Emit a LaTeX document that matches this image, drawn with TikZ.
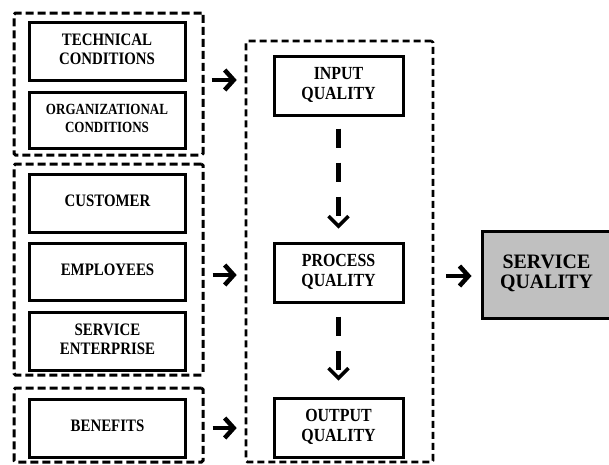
\documentclass[tikz,border=0pt]{standalone}
\usepackage{fontspec}
\setmainfont{Liberation Serif}
\usetikzlibrary{arrows.meta}
\definecolor{sqgray}{HTML}{C0C0C0}
\newcommand{\ctext}[2]{\scalebox{#1}[1]{\begin{tabular}{@{}c@{}}#2\end{tabular}}}
\begin{document}
\begin{tikzpicture}[x=1pt,y=-1pt,
  grp/.style={draw, line width=3pt, dash pattern=on 8pt off 4pt, rounded corners=1.5pt, inner sep=0pt, minimum width=189pt},
  lbox/.style={draw, line width=3pt, inner sep=0pt, minimum width=156pt, minimum height=58pt, font=\bfseries\fontsize{17.5}{19.5}\selectfont},
  mbox/.style={draw, line width=3pt, inner sep=0pt, minimum width=129pt, minimum height=59pt, font=\bfseries\fontsize{18.5}{20.5}\selectfont},
  harr/.style={line width=4.5pt, -{Straight Barb[length=9pt,width=20pt]}},
  varr/.style={line width=4.5pt, dash pattern=on 19pt off 15pt, -{Straight Barb[length=10pt,width=20pt,line width=3.5pt]}}
]
\useasboundingbox (0,0) rectangle (609,464);

% group boxes
\node[grp, minimum height=142pt] (g1) at (108.5,84) {};
\node[grp, minimum height=211pt] (g2) at (108.5,269.5) {};
\node[grp, minimum height=74pt] (g3) at (108.5,425) {};
\node[grp, minimum width=187pt, minimum height=421pt, dash pattern=on 7pt off 4pt, line width=2.6pt] (mid) at (339.5,251.5) {};

% left boxes
\node[lbox] (tech) at (107,51) {\ctext{0.85}{TECHNICAL\\CONDITIONS}};
\node[lbox, minimum height=56pt, font=\bfseries\fontsize{15.5}{18}\selectfont] (org) at (107,120) {\ctext{0.84}{ORGANIZATIONAL\\CONDITIONS}};
\node[lbox] (cust) at (107.5,203) {\ctext{0.85}{CUSTOMER}};
\node[lbox, minimum height=57pt] (empl) at (107.5,271.5) {\ctext{0.85}{EMPLOYEES}};
\node[lbox] (ent) at (107.5,341) {\ctext{0.85}{SERVICE\\ENTERPRISE}};
\node[lbox] (ben) at (107.5,428) {\ctext{0.85}{BENEFITS}};

% middle boxes
\node[mbox] (in) at (338.5,85.5) {\ctext{0.86}{INPUT\\QUALITY}};
\node[mbox] (proc) at (338.5,272.5) {\ctext{0.86}{PROCESS\\QUALITY}};
\node[mbox] (out) at (338.5,427.5) {\ctext{0.86}{OUTPUT\\QUALITY}};

% service quality
\node[draw, line width=3pt, fill=sqgray, inner sep=0pt, minimum width=129pt, minimum height=87pt, font=\bfseries\fontsize{20.5}{20.5}\selectfont] (sq) at (546.5,274.5) {\ctext{0.97}{SERVICE\\QUALITY}};

% arrows
\coordinate (p1) at ([yshift=4pt]g1.east);
\coordinate (p2) at ([yshift=-5.5pt]g2.east);
\coordinate (p3) at ([yshift=-3pt]g3.east);
\coordinate (p4) at ([yshift=-1.5pt]sq.west);
\draw[harr, shorten <=7pt, shorten >=8pt] (p1) -- (p1 -| mid.west);
\draw[harr, shorten <=8pt, shorten >=8pt] (p2) -- (p2 -| mid.west);
\draw[harr, shorten <=8pt, shorten >=8pt] (p3) -- (p3 -| mid.west);
\draw[harr, shorten <=12pt, shorten >=9pt] (p4 -| mid.east) -- (p4);

\draw[varr, shorten <=12pt, shorten >=13pt] (in.south) -- (proc.north);
\draw[varr, shorten <=13pt, shorten >=16pt] (proc.south) -- (out.north);
\end{tikzpicture}
\end{document}
